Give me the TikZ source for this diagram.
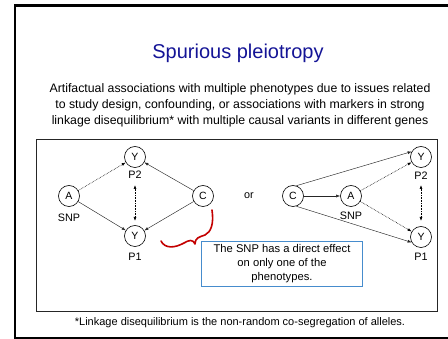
\documentclass[tikz,border=0pt]{standalone}
\usepackage{fontspec}
\setmainfont{Liberation Sans}
\usetikzlibrary{arrows.meta}
\definecolor{titleblue}{RGB}{20,20,150}
\definecolor{calloutblue}{RGB}{70,140,205}
\definecolor{bracered}{RGB}{195,0,0}
\begin{document}
\begin{tikzpicture}[x=1pt,y=-1pt,
  var/.style={draw,circle,line width=0.6pt,minimum size=21pt,inner sep=0pt,font=\fontsize{10.5}{12}\selectfont},
  lbl/.style={font=\fontsize{10.8}{12}\selectfont,inner sep=0pt},
  tip/.style={-{Latex[length=4pt,width=3pt]}},
  solidedge/.style={tip,line width=0.45pt,draw=black!85},
  dotedge/.style={tip,line width=0.6pt,densely dotted},
  bothdot/.style={{Latex[length=4pt,width=3pt]}-{Latex[length=4pt,width=3pt]},line width=0.6pt,densely dotted}]
\useasboundingbox (0,0) rectangle (448,339);
% slide frame
\draw[line width=2.5pt] (15,5.5) rectangle (470,338.5);
% heading and description
\node[text=titleblue,font=\fontsize{20}{24}\selectfont] (title) at (238,53) {Spurious pleiotropy};
\node[align=center,font=\fontsize{12.3}{16}\selectfont] (desc) at (240,105)
  {Artifactual associations with multiple phenotypes due to issues related\\
   to study design, confounding, or associations with markers in strong\\
   linkage disequilibrium* with multiple causal variants in different genes};
% diagram panel
\draw[line width=0.7pt,draw=black!85] (36,139) rectangle (437,311);
% first model
\node[var] (A1) at (69,196) {A};
\node[var] (Y2a) at (135,157) {Y};
\node[var] (Y1a) at (135,236) {Y};
\node[var] (C1) at (203,196) {C};
\node[lbl] (snp1) at (69,218) {SNP};
\node[lbl] (p2a) at (135,175) {P2};
\node[lbl] (p1a) at (135,257) {P1};
\draw[dotedge] (A1) -- (Y2a);
\draw[solidedge] (A1) -- (Y1a);
\draw[solidedge] (C1) -- (Y2a);
\draw[solidedge] (C1) -- (Y1a);
\coordinate (ua) at (135,185);
\coordinate (la) at (135,221);
\draw[bothdot] (ua) -- (la);
\node[lbl] (or) at (249,196) {or};
% second model
\node[var] (C2) at (293,196) {C};
\node[var] (A2) at (351,196) {A};
\node[var] (Y2b) at (421,157) {Y};
\node[var] (Y1b) at (421,237) {Y};
\node[lbl] (snp2) at (351,216) {SNP};
\node[lbl] (p2b) at (421,176) {P2};
\node[lbl] (p1b) at (421,257) {P1};
\draw[solidedge] (C2) -- (A2);
\draw[solidedge] (C2.72) -- (Y2b.150);
\draw[solidedge] (C2.-72) -- (Y1b.210);
\draw[dotedge] (A2) -- (Y2b);
\draw[dotedge] (A2) -- (Y1b);
\coordinate (ub) at (421,185);
\coordinate (lb) at (421,221);
\draw[bothdot] (ub) -- (lb);
% callout
\node[draw=calloutblue,line width=0.9pt,minimum width=161pt,minimum height=45pt,
      align=center,font=\fontsize{11.2}{14}\selectfont,inner sep=0pt] (note) at (282,263.5)
  {The SNP has a direct effect\\ on only one of the\\ phenotypes.};
\draw[bracered,line width=1.6pt,line cap=round,line join=round]
  (161,241) .. controls (165,249) and (175,248) .. (184,243)
  .. controls (189,240) and (193,239) .. (195,244)
  .. controls (195,238) and (199,237) .. (205,235)
  .. controls (211,232) and (214,224) .. (212,210);
% footnote
\node[font=\fontsize{11}{13}\selectfont] (foot) at (240,323)
  {*Linkage disequilibrium is the non-random co-segregation of alleles.};
\end{tikzpicture}
\end{document}
